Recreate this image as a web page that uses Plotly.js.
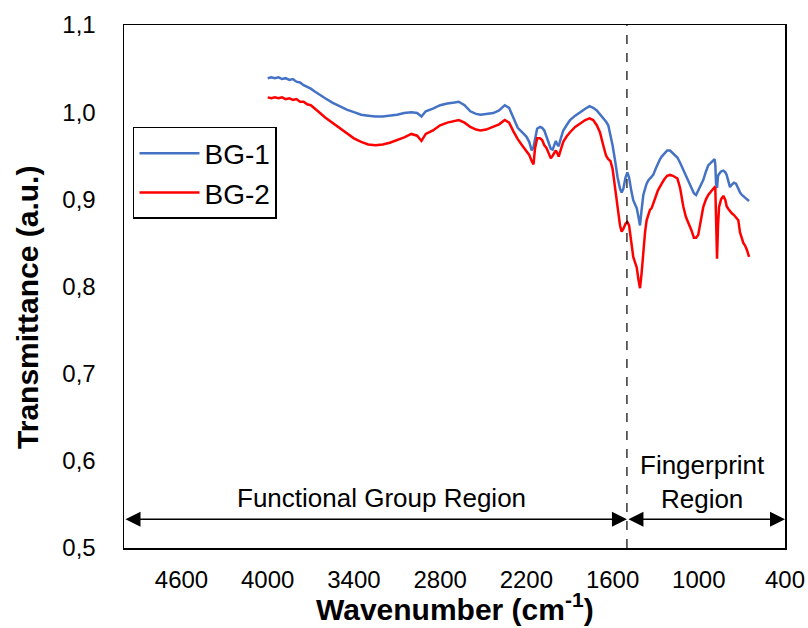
<!DOCTYPE html>
<html>
<head>
<meta charset="utf-8">
<script src="https://cdn.plot.ly/plotly-3.0.1.min.js"></script>
<style>
  html, body { margin: 0; padding: 0; background: #ffffff; }
  #chart { width: 808px; height: 628px; }
</style>
</head>
<body>
<div id="chart"></div>
<script>
// ---- Data ----
const wavenumber = [4000,3975,3950,3925,3900,3875,3850,3825,3800,3775,3750,3725,3700,3675,3650,3600,3550,3500,3450,3400,3350,3300,3250,3200,3150,3100,3050,
  3000,2960,2930,2900,2850,2800,2750,2700,2670,2630,2590,2550,2520,2480,2430,2390,2350,2320,2290,2260,
  2230,2200,2180,2163,2150,2140,2125,2105,2090,2075,2060,2045,2030,2017,2005,1995,1985,1975,1960,1943,
  1920,1896,1860,1827,1790,1760,1735,1710,1688,1665,1645,1630,1615,1600,1583,1565,1548,1537,1525,1510,
  1497,1485,1470,1456,1440,1432,1420,1409,1398,1386,1374,1363,1350,1340,1328,1317,1300,1285,1270,1258,
  1240,1220,1200,1180,1160,1149,1130,1108,1090,1073,1050,1034,1019,1004,985,969,950,934,915,900,
  890,885,880,873,866,859,845,829,815,806,794,783,770,755,741,725,713,700,690,678,665,650];

const bg1 = [1.039,1.040,1.039,1.040,1.038,1.039,1.037,1.038,1.035,1.034,1.031,1.029,1.027,1.024,1.021,1.016,1.011,1.007,1.003,1.000,0.997,0.996,0.995,0.995,0.996,0.997,0.999,
  1.000,0.999,0.995,1.001,1.004,1.008,1.010,1.011,1.012,1.008,1.001,0.998,0.997,0.998,0.999,1.002,1.008,1.005,0.993,0.982,
  0.977,0.972,0.966,0.956,0.960,0.968,0.981,0.983,0.982,0.979,0.972,0.963,0.958,0.957,0.963,0.967,0.963,0.961,0.970,0.979,
  0.985,0.991,0.996,1.000,1.004,1.007,1.005,1.002,0.998,0.993,0.989,0.985,0.975,0.962,0.945,0.925,0.912,0.908,0.912,0.925,
  0.931,0.925,0.910,0.899,0.893,0.890,0.880,0.870,0.888,0.905,0.912,0.918,0.922,0.924,0.926,0.928,0.935,0.941,0.946,0.949,
  0.953,0.956,0.956,0.953,0.950,0.948,0.942,0.934,0.928,0.921,0.912,0.907,0.905,0.910,0.917,0.922,0.932,0.939,0.942,0.944,
  0.946,0.940,0.918,0.913,0.927,0.929,0.932,0.933,0.931,0.928,0.920,0.914,0.917,0.919,0.918,0.912,0.908,0.905,0.904,0.902,0.900,0.898];

const bg2 = [1.017,1.016,1.017,1.016,1.017,1.015,1.016,1.014,1.015,1.012,1.012,1.009,1.008,1.004,1.001,0.994,0.988,0.982,0.976,0.970,0.966,0.963,0.962,0.963,0.965,0.968,0.971,
  0.975,0.973,0.967,0.975,0.979,0.985,0.988,0.990,0.991,0.988,0.983,0.980,0.979,0.980,0.983,0.986,0.991,0.988,0.978,0.969,
  0.962,0.956,0.951,0.944,0.940,0.958,0.970,0.970,0.968,0.962,0.959,0.953,0.947,0.950,0.953,0.956,0.953,0.949,0.957,0.966,
  0.972,0.977,0.983,0.987,0.991,0.993,0.991,0.985,0.977,0.962,0.950,0.946,0.944,0.935,0.914,0.890,0.870,0.863,0.866,0.872,
  0.874,0.870,0.852,0.834,0.826,0.822,0.808,0.798,0.815,0.842,0.862,0.876,0.884,0.888,0.890,0.896,0.903,0.910,0.915,0.918,
  0.923,0.927,0.928,0.927,0.925,0.924,0.913,0.892,0.880,0.874,0.864,0.856,0.856,0.859,0.875,0.891,0.900,0.905,0.909,0.912,
  0.914,0.913,0.880,0.832,0.870,0.891,0.900,0.904,0.899,0.892,0.889,0.886,0.884,0.882,0.879,0.876,0.862,0.855,0.850,0.847,0.842,0.834];

const seriesNames = ["BG-1", "BG-2"];
const seriesColors = ["#4472C4", "#FF0000"];

const xTickVals = [4600, 4000, 3400, 2800, 2200, 1600, 1000, 400];
const xTickText = ["4600", "4000", "3400", "2800", "2200", "1600", "1000", "400"];
const yTickVals = [0.5, 0.6, 0.7, 0.8, 0.9, 1.0, 1.1];
const yTickText = ["0,5", "0,6", "0,7", "0,8", "0,9", "1,0", "1,1"];

const xTitle = "<b>Wavenumber (cm<sup>-1</sup>)</b>";
const yTitle = "<b>Transmittance (a.u.)</b>";

const regionBoundary = 1500;
const regionArrowY = 0.533;
const regionLabels = ["Functional Group Region", "Fingerprint<br>Region"];
const xRange = [5000, 400];
const yRange = [0.5, 1.1];

// ---- Plot ----
const FONT = "Arial, 'Liberation Sans', sans-serif";

const traces = [
  { x: wavenumber, y: bg1, name: seriesNames[0], type: "scatter", mode: "lines",
    line: { color: seriesColors[0], width: 2.5 } },
  { x: wavenumber, y: bg2, name: seriesNames[1], type: "scatter", mode: "lines",
    line: { color: seriesColors[1], width: 2.5 } }
];

const layout = {
  width: 808, height: 628,
  margin: { l: 124, r: 23, t: 25, b: 80 },
  paper_bgcolor: "#ffffff", plot_bgcolor: "#ffffff",
  font: { family: FONT, color: "#000000" },
  showlegend: true,
  legend: {
    x: 0.0136, y: 0.805, xanchor: "left", yanchor: "top",
    bordercolor: "#000000", borderwidth: 1.5, bgcolor: "#ffffff",
    font: { size: 28, family: FONT }, itemwidth: 60,
    tracegroupgap: 0
  },
  xaxis: {
    range: xRange, autorange: false,
    tickmode: "array", tickvals: xTickVals, ticktext: xTickText,
    ticks: "", showgrid: false, zeroline: false,
    showline: true, mirror: true, linecolor: "#000000", linewidth: 1.5,
    tickfont: { size: 24, family: FONT }, ticklabelstandoff: 10
  },
  yaxis: {
    range: yRange, autorange: false,
    tickmode: "array", tickvals: yTickVals, ticktext: yTickText,
    ticks: "", showgrid: false, zeroline: false,
    showline: true, mirror: true, linecolor: "#000000", linewidth: 1.5,
    tickfont: { size: 24, family: FONT }, ticklabelstandoff: 22
  },
  shapes: [
    { type: "line", xref: "x", yref: "paper", x0: regionBoundary, x1: regionBoundary, y0: 0, y1: 1,
      line: { color: "#000000", width: 1.2, dash: "dash" } }
  ],
  annotations: [
    { xref: "paper", yref: "paper", x: 0.5, y: -0.1128, text: xTitle, showarrow: false,
      font: { size: 30, family: FONT }, xanchor: "center", yanchor: "middle" },
    { xref: "paper", yref: "paper", x: -0.1452, y: 0.459, text: yTitle, showarrow: false, textangle: -90,
      font: { size: 30, family: FONT }, xanchor: "center", yanchor: "middle" },
    { xref: "x", yref: "y", axref: "x", ayref: "y",
      x: regionBoundary, y: regionArrowY, ax: xRange[0], ay: regionArrowY,
      text: "", showarrow: true, arrowside: "end+start", arrowhead: 2, startarrowhead: 2,
      arrowsize: 2, startarrowsize: 2, arrowwidth: 1.5, arrowcolor: "#000000", standoff: 0, startstandoff: 0 },
    { xref: "x", yref: "y", axref: "x", ayref: "y",
      x: xRange[1], y: regionArrowY, ax: regionBoundary, ay: regionArrowY,
      text: "", showarrow: true, arrowside: "end+start", arrowhead: 2, startarrowhead: 2,
      arrowsize: 2, startarrowsize: 2, arrowwidth: 1.5, arrowcolor: "#000000", standoff: 0, startstandoff: 0 },
    { xref: "x", yref: "y", x: 3205, y: 0.557, text: regionLabels[0], showarrow: false,
      font: { size: 26, family: FONT }, xanchor: "center", yanchor: "middle" },
    { xref: "x", yref: "y", x: 975, y: 0.576, text: regionLabels[1], showarrow: false,
      font: { size: 26, family: FONT }, xanchor: "center", yanchor: "middle" }
  ]
};

Plotly.newPlot("chart", traces, layout, { staticPlot: true, displayModeBar: false });
</script>
</body>
</html>
